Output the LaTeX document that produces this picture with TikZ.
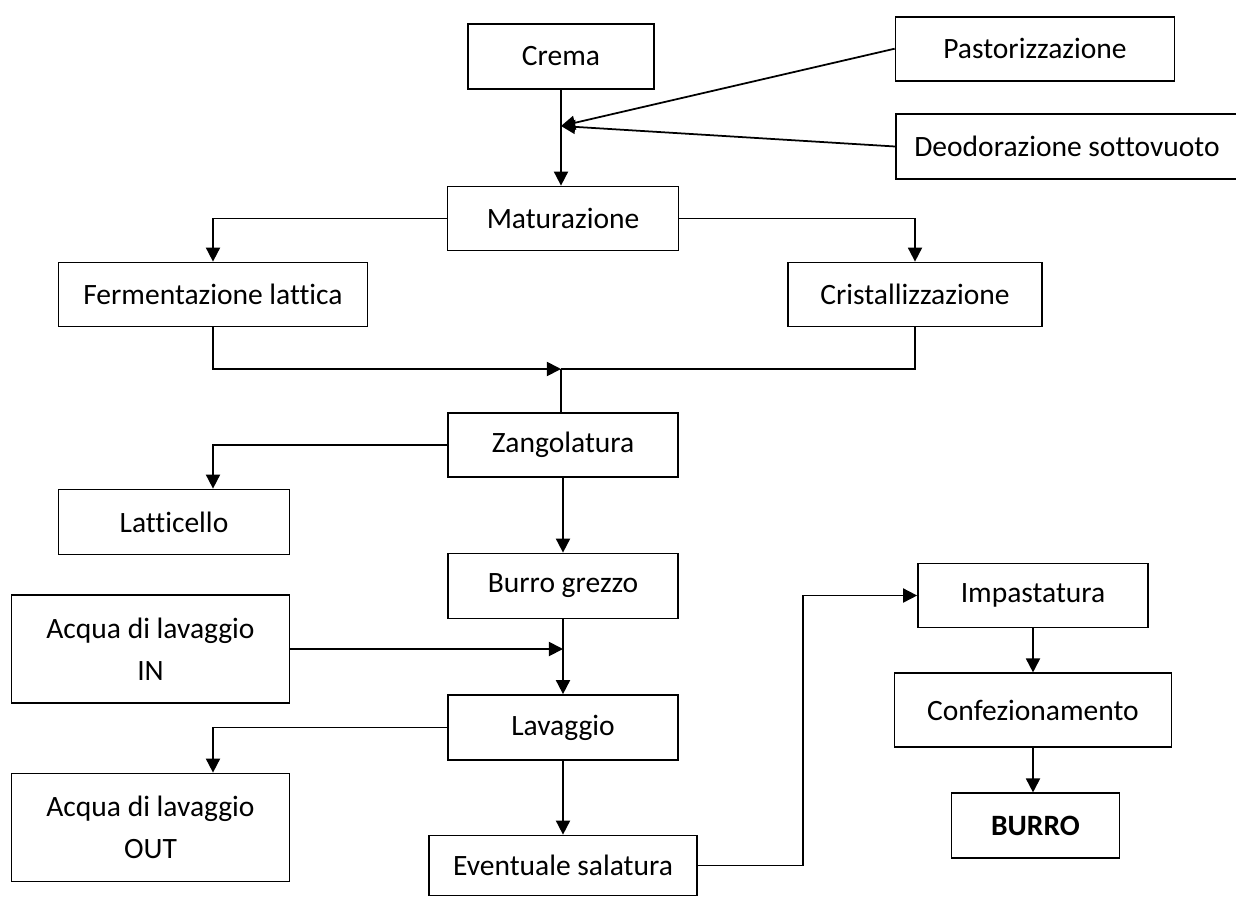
\documentclass[tikz,border=0pt]{standalone}
\usepackage{fontspec}
\setmainfont{Carlito}[Ligatures=NoCommon]
\usetikzlibrary{arrows.meta}

\begin{document}
\begin{tikzpicture}[x=0.02cm, y=-0.02cm, >={Triangle[length=8pt,width=8pt]}, line width=1pt,
    box/.style={draw, inner sep=0pt, align=center, font=\fontsize{16.8}{24}\selectfont}]
    \useasboundingbox (0,0) rectangle (1236,896);

    % colonna centrale
    \node[box, minimum width=3.72cm, minimum height=1.3cm] (crema) at (561,56.5) {Crema};
    \node[box, minimum width=4.62cm, minimum height=1.28cm] (mat) at (563,218.5) {Maturazione};
    \node[box, minimum width=4.6cm, minimum height=1.28cm] (zang) at (563,445) {Zangolatura};
    \node[box, minimum width=4.6cm, minimum height=1.3cm] (grezzo) at (563,586) {Burro grezzo};
    \node[box, minimum width=4.6cm, minimum height=1.3cm] (lav) at (563,727.5) {Lavaggio};
    \node[box, minimum width=5.36cm, minimum height=1.2cm] (sal) at (563,865.5) {Eventuale salatura};

    % trattamenti in alto a destra
    \node[box, minimum width=5.58cm, minimum height=1.28cm] (past) at (1035,48.7) {Pastorizzazione};
    \node[box, minimum width=6.84cm, minimum height=1.3cm] (deod) at (1067,146.5) {Deodorazione sottovuoto};

    % rami di maturazione
    \node[box, minimum width=6.18cm, minimum height=1.28cm] (ferm) at (213,294.5) {Fermentazione lattica};
    \node[box, minimum width=5.08cm, minimum height=1.28cm] (crist) at (915,294.5) {Cristallizzazione};

    % sottoprodotti e acqua
    \node[box, minimum width=4.62cm, minimum height=1.3cm] (latt) at (174,522) {Latticello};
    \node[box, minimum width=5.56cm, minimum height=2.16cm] (acqin) at (150.5,649) {Acqua di lavaggio\\IN};
    \node[box, minimum width=5.56cm, minimum height=2.16cm] (acqout) at (150.5,827.5) {Acqua di lavaggio\\OUT};

    % colonna finale
    \node[box, minimum width=4.6cm, minimum height=1.28cm] (imp) at (1033,595.5) {Impastatura};
    \node[box, minimum width=5.54cm, minimum height=1.48cm] (conf) at (1033,710.3) {Confezionamento};
    \node[box, minimum width=3.36cm, minimum height=1.3cm] (burro) at (1035.5,825.8) {\bfseries BURRO};

    % punti di raccordo
    \coordinate (innesto) at (561,126);
    \coordinate (unione) at (561,369);
    \coordinate (gomito) at (803,865.5);

    % frecce
    \draw[->] (crema) -- (crema |- mat.north);
    \draw[->] (past.west) -- (innesto);
    \draw[->] (deod.west) -- (innesto);
    \draw[->] (mat.west) -| (ferm.north);
    \draw[->] (mat.east) -| (crist.north);
    \draw[->] (ferm.south) |- (unione);
    \draw (crist.south) |- (unione);
    \draw (unione) -- (unione |- zang.north);
    \draw[->] (zang.west) -| (ferm.south |- latt.north);
    \draw[->] (zang) -- (grezzo);
    \draw[->] (grezzo) -- (lav);
    \draw[->] (acqin.east) -- (acqin.east -| grezzo.south);
    \draw[->] (lav.west) -| (ferm.south |- acqout.north);
    \draw[->] (lav) -- (sal);
    \draw[->] (sal.east) -- (gomito) |- (imp.west);
    \draw[->] (imp) -- (conf);
    \draw[->] (conf) -- (conf.south |- burro.north);
\end{tikzpicture}
\end{document}
